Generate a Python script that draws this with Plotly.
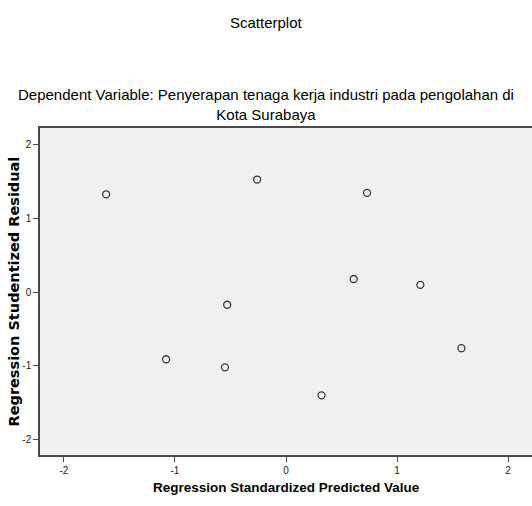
import plotly.graph_objects as go

predicted = [-1.62, -0.26, 0.73, -0.53, 0.61, 1.21, -1.08, -0.55, 1.58, 0.32]
residual = [1.33, 1.53, 1.35, -0.17, 0.18, 0.10, -0.91, -1.02, -0.76, -1.40]
tick_vals = [-2, -1, 0, 1, 2]
tick_text = ["-2", "-1", "0", "1", "2"]

font_family = "Liberation Sans, Arial, sans-serif"

fig = go.Figure()
fig.add_trace(go.Scatter(
    x=predicted, y=residual, mode="markers",
    marker=dict(symbol="circle-open", size=7, color="#3a3a3a", line=dict(width=1.3, color="#3a3a3a")),
    hoverinfo="x+y", showlegend=False,
))

axis_common = dict(
    showgrid=False, zeroline=False, showline=True, linecolor="#4a4a4a", linewidth=1.5,
    ticks="outside", ticklen=5, tickcolor="#4a4a4a", tickwidth=1,
    tickfont=dict(family=font_family, size=10, color="#222222"),
    tickvals=tick_vals, ticktext=tick_text,
)

fig.update_layout(
    width=532, height=506,
    margin=dict(l=40, r=0, t=128, b=51),
    paper_bgcolor="white", plot_bgcolor="#f0f0f0",
    font=dict(family=font_family, color="#000000"),
    xaxis=dict(range=[-2.216, 2.216], mirror=True, **axis_common),
    yaxis=dict(range=[-2.21, 2.23], mirror=False, **axis_common),
    annotations=[
        dict(text="Scatterplot", xref="paper", yref="paper", x=(266 - 40) / 492, y=(455 - 22) / 327,
             showarrow=False, font=dict(size=15, family=font_family), xanchor="center", yanchor="middle"),
        dict(text="Dependent Variable: Penyerapan tenaga kerja industri pada pengolahan di<br>Kota Surabaya",
             xref="paper", yref="paper", x=(266 - 40) / 492, y=(455 - 104) / 327,
             showarrow=False, font=dict(size=15, family=font_family), xanchor="center", yanchor="middle",
             align="center"),
        dict(text="<b>Regression Standardized Predicted Value</b>", xref="paper", yref="paper",
             x=0.5, y=(455 - 487) / 327, showarrow=False, font=dict(size=13.5, family=font_family),
             xanchor="center", yanchor="middle"),
        dict(text="<b>Regression Studentized Residual</b>", xref="paper", yref="paper",
             x=(13 - 40) / 492, y=0.5, textangle=-90, showarrow=False,
             font=dict(size=14.5, family="DejaVu Sans, sans-serif"), xanchor="center", yanchor="middle"),
    ],
)

fig.write_html("out.html", config={"displayModeBar": False},
               post_script="document.body.style.margin='0';")
